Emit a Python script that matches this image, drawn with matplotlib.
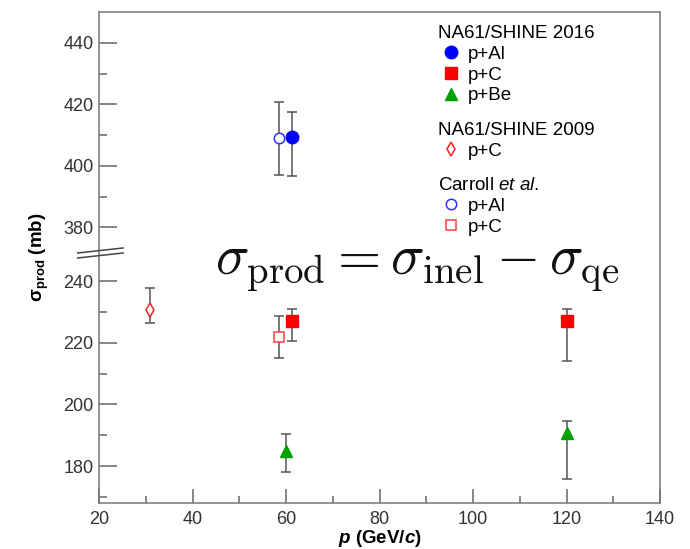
import numpy as np
import matplotlib
matplotlib.use('agg')
import matplotlib.pyplot as plt

plt.rcParams['font.family'] = ['Liberation Sans', 'DejaVu Sans']
plt.rcParams['mathtext.fontset'] = 'custom'
plt.rcParams['mathtext.rm'] = 'Liberation Sans'
plt.rcParams['mathtext.it'] = 'Liberation Sans:italic'
plt.rcParams['mathtext.bf'] = 'Liberation Sans:bold'
plt.rcParams['mathtext.bfit'] = 'Liberation Sans:italic:bold'

# broken y axis: values above the break are shifted down by OFFSET
OFFSET = 122.5
BREAK = 300.0

def to_axis(v):
    v = np.asarray(v, dtype=float)
    return np.where(v > BREAK, v - OFFSET, v)

# NA61/SHINE 2016
al16_p = [61.3]
al16_sig = [409.5]
al16_lo = [12.7]
al16_hi = [8.1]

c16_p = [61.3, 120.0]
c16_sig = [227.0, 227.0]
c16_lo = [6.4, 13.0]
c16_hi = [4.0, 4.0]

be16_p = [60.0, 120.0]
be16_sig = [185.0, 190.6]
be16_lo = [7.0, 14.8]
be16_hi = [5.3, 4.1]

# NA61/SHINE 2009
c09_p = [31.0]
c09_sig = [230.7]
c09_lo = [4.3]
c09_hi = [7.0]

# Carroll et al.
alc_p = [58.5]
alc_sig = [409.0]
alc_lo = [11.8]
alc_hi = [11.8]

cc_p = [58.5]
cc_sig = [222.0]
cc_lo = [6.9]
cc_hi = [6.9]

lower_major = [180, 200, 220, 240]
lower_minor = [170, 190, 210, 230]
upper_major = [380, 400, 420, 440]
upper_minor = [390, 410, 430]

fig = plt.figure(figsize=(6.9, 5.49), dpi=100)
ax = fig.add_axes([99/690, 1-503/549, 561/690, 491/549])

ecol = '#555555'

def draw(p, sig, lo, hi, **kw):
    return ax.errorbar(p, to_axis(sig), yerr=[lo, hi], fmt='none', ecolor=ecol,
                       elinewidth=1.1, capsize=3.5, capthick=1.1, zorder=2), \
        ax.plot(p, to_axis(sig), linestyle='none', zorder=3, **kw)[0]

_, h_al16 = draw(al16_p, al16_sig, al16_lo, al16_hi, marker='o', ms=9, color='#0000ff')
_, h_c16 = draw(c16_p, c16_sig, c16_lo, c16_hi, marker='s', ms=8, color='#ff0000')
_, h_be16 = draw(be16_p, be16_sig, be16_lo, be16_hi, marker='^', ms=9, color='#00a000')
_, h_c09 = draw(c09_p, c09_sig, c09_lo, c09_hi, marker='d', ms=7, mfc='white',
                mec='#ff2020', mew=1.1)
_, h_alc = draw(alc_p, alc_sig, alc_lo, alc_hi, marker='o', ms=7.5, mfc='white',
                mec='#3030ff', mew=1.1)
_, h_cc = draw(cc_p, cc_sig, cc_lo, cc_hi, marker='s', ms=7, mfc='white',
               mec='#ff4040', mew=1.1)

ax.set_xlim(20, 140)
ax.set_ylim(168, 450 - OFFSET)
ax.set_xticks([20, 40, 60, 80, 100, 120, 140])
ax.set_xticks([30, 50, 70, 90, 110, 130], minor=True)
ax.set_yticks(list(to_axis(lower_major)) + list(to_axis(upper_major)))
ax.set_yticklabels([str(v) for v in lower_major + upper_major])
ax.set_yticks(list(to_axis(lower_minor)) + list(to_axis(upper_minor)), minor=True)

ax.tick_params(axis='both', which='both', direction='in', colors='#666666',
               labelcolor='#333333', labelsize=13, width=1.1)
ax.tick_params(axis='y', which='major', length=13, pad=4)
ax.tick_params(axis='y', which='minor', length=6)
ax.tick_params(axis='x', which='major', length=10, pad=6)
ax.tick_params(axis='x', which='minor', length=5)
for s in ax.spines.values():
    s.set_color('#777777')
    s.set_linewidth(1.1)

# break marks on the y axis
for dy in (0, 5):
    ax.plot([-0.038, 0.043], [0.5092 - dy/491, 0.5194 - dy/491], transform=ax.transAxes,
            color='#444444', lw=1.1, clip_on=False, zorder=5)

ax.set_xlabel(r'$\mathbfit{p}$ (GeV/$\mathbfit{c}$)', fontsize=13.5, fontweight='bold',
              labelpad=0)
ax.set_ylabel(r'$\mathbf{\sigma_{prod}}$ (mb)', fontsize=13.5, fontweight='bold',
              labelpad=9)

ax.text(0.207, 0.4644, r'$\sigma_{\rm prod} = \sigma_{\rm inel} - \sigma_{\rm qe}$',
        transform=ax.transAxes, fontsize=40, math_fontfamily='cm', va='baseline',
        color='#111111')

lkw = dict(frameon=False, borderpad=0, handlelength=1.4, handletextpad=0.2,
           labelspacing=0.2, fontsize=13.5, title_fontsize=13.5, alignment='left',
           borderaxespad=0, loc='upper left')
leg1 = ax.legend([h_al16, h_c16, h_be16], ['p+Al', 'p+C', 'p+Be'],
                 title='NA61/SHINE 2016', bbox_to_anchor=(0.604, 0.974), **lkw)
ax.add_artist(leg1)
leg2 = ax.legend([h_c09], ['p+C'], title='NA61/SHINE 2009',
                 bbox_to_anchor=(0.604, 0.776), **lkw)
ax.add_artist(leg2)
ax.legend([h_alc, h_cc], ['p+Al', 'p+C'], title=r'Carroll $\mathit{et\ al}$.',
          bbox_to_anchor=(0.604, 0.664), **lkw)

fig.savefig('out.png', dpi=100)
